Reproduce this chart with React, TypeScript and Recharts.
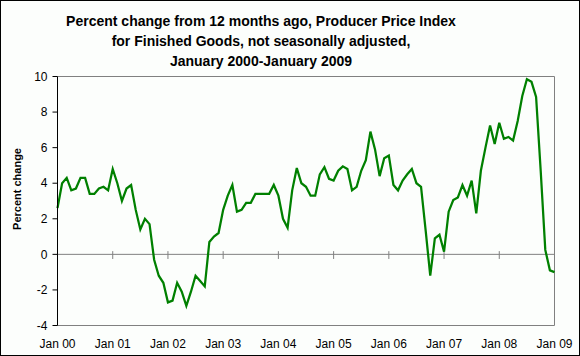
import React from 'react';
import { LineChart, Line, XAxis, YAxis, ReferenceLine } from 'recharts';

// Percent change from 12 months ago, PPI finished goods, monthly Jan 2000 - Jan 2009
const ppiChange = [
  2.6, 4.0, 4.3, 3.6, 3.7, 4.3, 4.3, 3.4, 3.4, 3.7, 3.8, 3.6,
  4.8, 4.0, 3.0, 3.7, 3.9, 2.5, 1.4, 2.0, 1.7, -0.3, -1.2, -1.6,
  -2.7, -2.6, -1.6, -2.1, -2.9, -2.1, -1.2, -1.5, -1.8, 0.7, 1.0, 1.2,
  2.5, 3.3, 3.9, 2.4, 2.5, 2.9, 2.9, 3.4, 3.4, 3.4, 3.4, 3.9,
  3.3, 2.0, 1.5, 3.6, 4.85, 4.0, 3.8, 3.3, 3.3, 4.5, 4.9, 4.25,
  4.15, 4.7, 4.95, 4.8, 3.6, 3.8, 4.7, 5.3, 6.9, 5.9, 4.4, 5.4,
  5.55, 3.9, 3.6, 4.15, 4.5, 4.8, 4.0, 3.8, 1.35, -1.2, 0.9, 1.1,
  0.15, 2.4, 3.05, 3.2, 3.9, 3.3, 4.15, 2.3, 4.7, 6.0, 7.25, 6.2,
  7.4, 6.5, 6.6, 6.4, 7.5, 8.9, 9.85, 9.7, 8.85, 4.7, 0.25, -0.9,
  -1.0,
];

const yearLabels = ['Jan 00', 'Jan 01', 'Jan 02', 'Jan 03', 'Jan 04', 'Jan 05', 'Jan 06', 'Jan 07', 'Jan 08', 'Jan 09'];
const yearTicks = [0, 12, 24, 36, 48, 60, 72, 84, 96, 108];
const yTicks = [-4, -2, 0, 2, 4, 6, 8, 10];

const titleLines = [
  'Percent change from 12 months ago, Producer Price Index',
  'for Finished Goods, not seasonally adjusted,',
  'January 2000-January 2009',
];

const FONT = '"Liberation Sans", Arial, sans-serif';
const GRAY = '#808080';

const App: React.FC = () => {
  const data = ppiChange.map((v, i) => ({ month: i, value: v }));

  return (
    <div
      style={{
        position: 'fixed',
        left: 0,
        top: 0,
        width: 580,
        height: 356,
        background: '#fcfefc',
        fontFamily: FONT,
      }}
    >
      <LineChart
        width={580}
        height={356}
        data={data}
        margin={{ top: 76.5, right: 25.5, bottom: 0.5, left: 7.5 }}
      >
        <XAxis
          dataKey="month"
          type="number"
          domain={[0, 108]}
          ticks={yearTicks}
          tickFormatter={(v: number) => yearLabels[v / 12]}
          height={30}
          tickSize={0}
          tickMargin={14}
          tickLine={false}
          axisLine={{ stroke: GRAY, strokeWidth: 1 }}
          tick={{ fill: '#000', fontSize: 12, fontFamily: FONT }}
          interval={0}
        />
        <YAxis
          type="number"
          domain={[-4, 10]}
          ticks={yTicks}
          width={50}
          tickSize={5}
          tickMargin={5}
          axisLine={{ stroke: '#000', strokeWidth: 1 }}
          tickLine={{ stroke: '#000', strokeWidth: 1 }}
          tick={{ fill: '#000', fontSize: 12, fontFamily: FONT }}
          interval={0}
        />
        <ReferenceLine y={10} stroke={GRAY} strokeWidth={1} />
        <ReferenceLine x={108} stroke={GRAY} strokeWidth={1} />
        <ReferenceLine y={0} stroke={GRAY} strokeWidth={1} />
        {yearTicks.slice(1, -1).map((m) => (
          <ReferenceLine
            key={m}
            segment={[{ x: m, y: 0.18 }, { x: m, y: -0.26 }]}
            stroke={GRAY}
            strokeWidth={1}
          />
        ))}
        <Line
          type="linear"
          dataKey="value"
          stroke="#008000"
          strokeWidth={2.25}
          dot={false}
          activeDot={false}
          isAnimationActive={false}
        />
      </LineChart>
      <svg
        width={580}
        height={356}
        style={{ position: 'absolute', left: 0, top: 0, pointerEvents: 'none' }}
      >
        {titleLines.map((line, i) => (
          <text
            key={i}
            x={261}
            y={26 + i * 20}
            textAnchor="middle"
            fontSize={14}
            fontWeight="bold"
            fontFamily={FONT}
            fill="#000"
          >
            {line}
          </text>
        ))}
        <text
          x={0}
          y={0}
          transform="translate(20.5, 189) rotate(-90)"
          textAnchor="middle"
          fontSize={11}
          fontWeight="bold"
          fontFamily={FONT}
          fill="#000"
        >
          Percent change
        </text>
        <rect x={0.5} y={0.5} width={579} height={355} fill="none" stroke="#000" strokeWidth={1} />
      </svg>
    </div>
  );
};

export default App;
